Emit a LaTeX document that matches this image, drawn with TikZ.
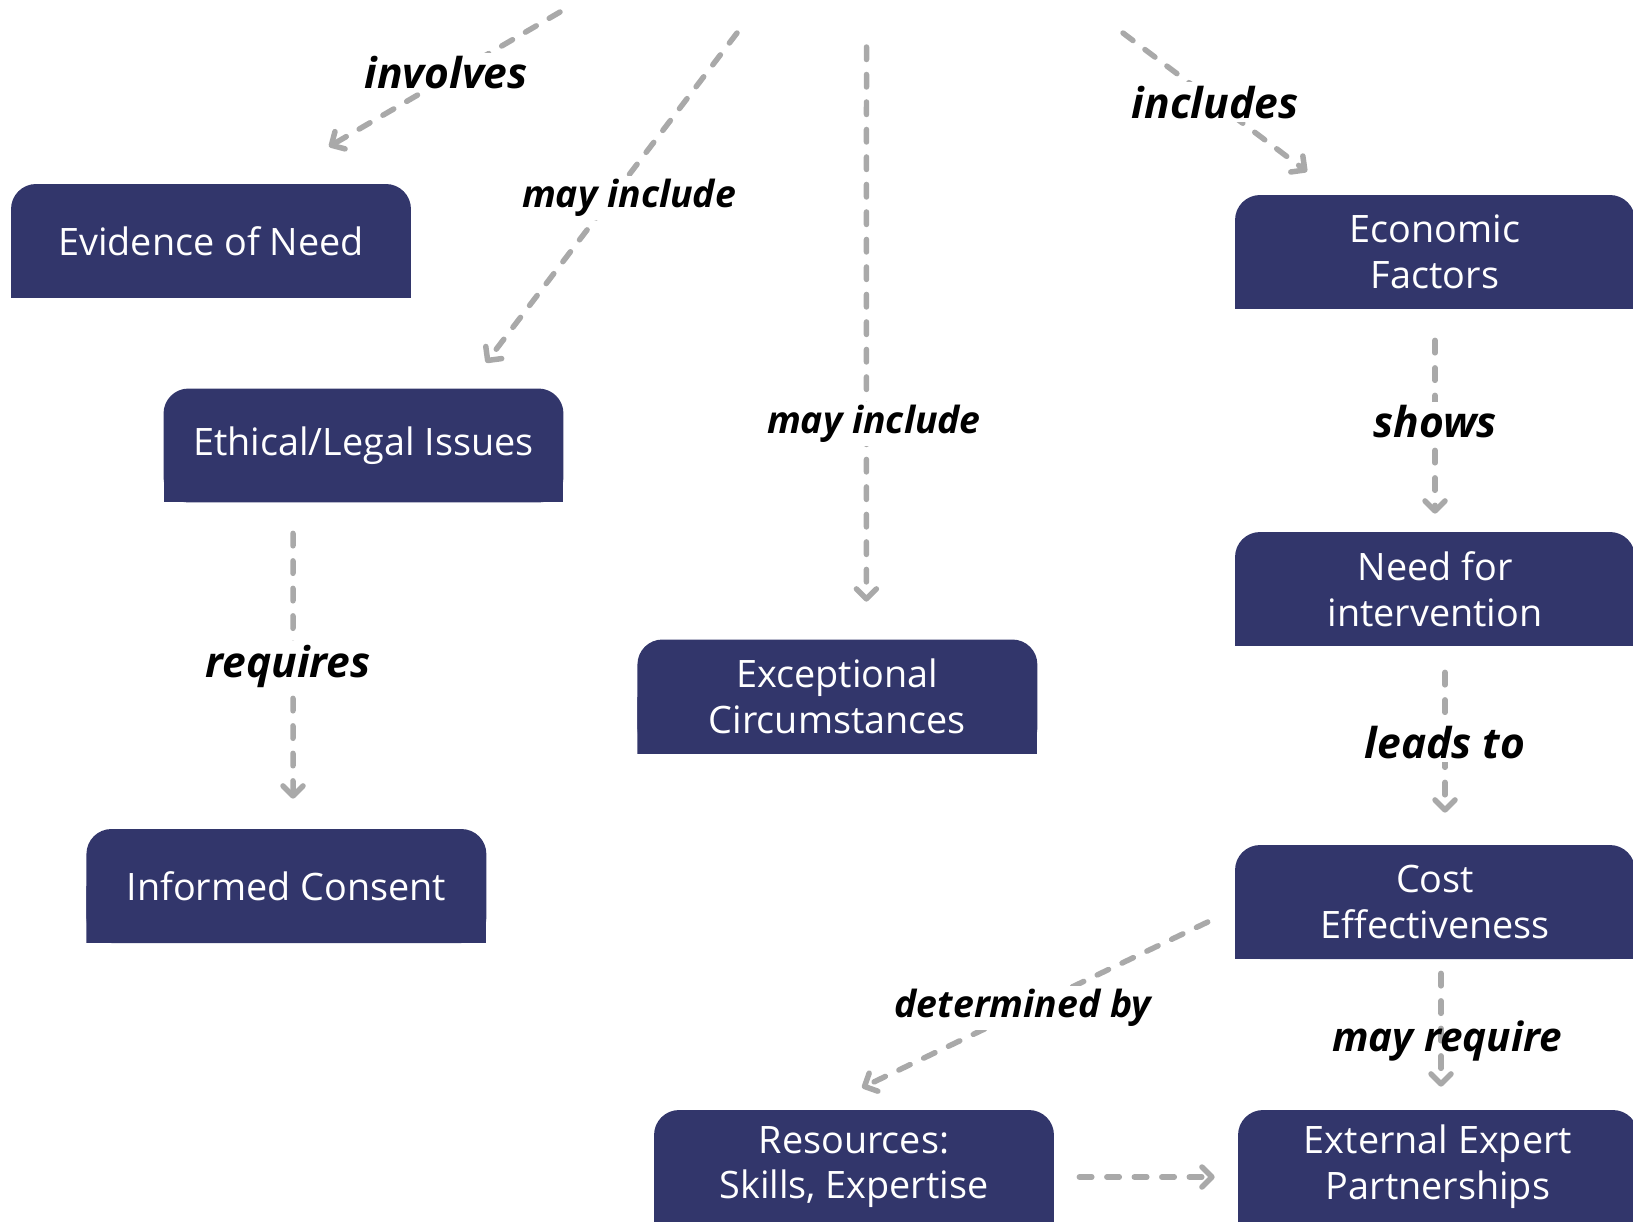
\documentclass[tikz,border=0pt]{standalone}
\usepackage{fontspec}
\setmainfont{Open Sans}
\usetikzlibrary{arrows.meta}

\definecolor{boxblue}{RGB}{50,54,107}
\definecolor{linkgray}{RGB}{169,169,169}

\begin{document}
\begin{tikzpicture}[x=0.02cm, y=-0.02cm,
  box/.style={minimum width=8cm, minimum height=2.28cm, inner sep=0pt, align=center, text=white,
    font=\fontsize{21.5}{26}\selectfont,
    path picture={
      \fill[boxblue, rounded corners=0.5cm] (path picture bounding box.south west) rectangle (path picture bounding box.north east);
      \fill[boxblue] (path picture bounding box.south west) rectangle (path picture bounding box.east);
    }},
  link/.style={draw=linkgray, line width=0.11cm, line cap=round, dash pattern=on 0.25cm off 0.3cm,
    -{Straight Barb[length=0.2cm, width=0.4cm, round]}},
  lbl/.style={fill=white, inner sep=2pt, text=black, font=\fontsize{24.2}{29}\selectfont\bfseries\itshape},
  lblsmall/.style={lbl, font=\fontsize{21.3}{25}\selectfont\bfseries\itshape}]

\useasboundingbox (0,0) rectangle (1633,1221);

% Left column
\node[box] (evid) at (211,241) {Evidence of Need};
\node[box] (ethic) at (363.5,445.5) {Ethical/Legal Issues};
\node[box] (consent) at (286.4,886) {Informed Consent};

% Middle column
\node[box] (except) at (837.4,696.5) {Exceptional\\Circumstances};
\node[box] (res) at (854,1167) {Resources:\\Skills, Expertise};

% Right column
\node[box] (econ) at (1435,252) {Economic\\Factors};
\node[box] (need) at (1435,589) {Need for\\intervention};
\node[box] (cost) at (1435,902) {Cost\\Effectiveness};
\node[box] (ext) at (1438,1167) {External Expert\\Partnerships};

% links coming in from above the picture
\coordinate (top1) at (560,12);
\coordinate (top2) at (737,33);
\coordinate (top3) at (866.5,47);
\coordinate (top4) at (1123,33);

\draw[link] (top1) -- node[lbl, pos=0.45, xshift=-0.2cm] {involves} ([shift={(118,-37)}]evid.north);
\draw[link] (top2) -- node[lblsmall, xshift=0.35cm] {may include} ([shift={(122.5,-25.5)}]ethic.north);
\draw[link] (top3) -- node[lblsmall, pos=0.68, xshift=0.15cm] {may include} ([shift={(29,-37.5)}]except.north);
\draw[link] (top4) -- node[lbl, pos=0.5] {includes} ([shift={(-128,-23)}]econ.north);

% links between boxes
\draw[link] ([shift={(-70.5,30.5)}]ethic.south) -- node[lbl, xshift=-0.1cm] {requires} ([shift={(6.6,-30)}]consent.north);
\draw[link] ([shift={(0,31)}]econ.south) -- node[lbl, pos=0.47] {shows} ([shift={(0,-18)}]need.north);
\draw[link] ([shift={(10,26)}]need.south) -- node[lbl] {leads to} ([shift={(10,-32)}]cost.north);
\draw[link] ([shift={(6,14)}]cost.south) -- node[lbl, fill=none, pos=0.6, xshift=0.12cm, font=\fontsize{23}{27}\selectfont\bfseries\itshape] {may require} ([shift={(3,-23)}]ext.north);
\draw[link] ([shift={(-27,20)}]cost.west) -- node[lblsmall, pos=0.52, xshift=-0.1cm] {determined by} ([shift={(8,-22)}]res.north);
\draw[link] ([shift={(25,10)}]res.east) -- ([shift={(-23,10)}]ext.west);

\end{tikzpicture}
\end{document}
